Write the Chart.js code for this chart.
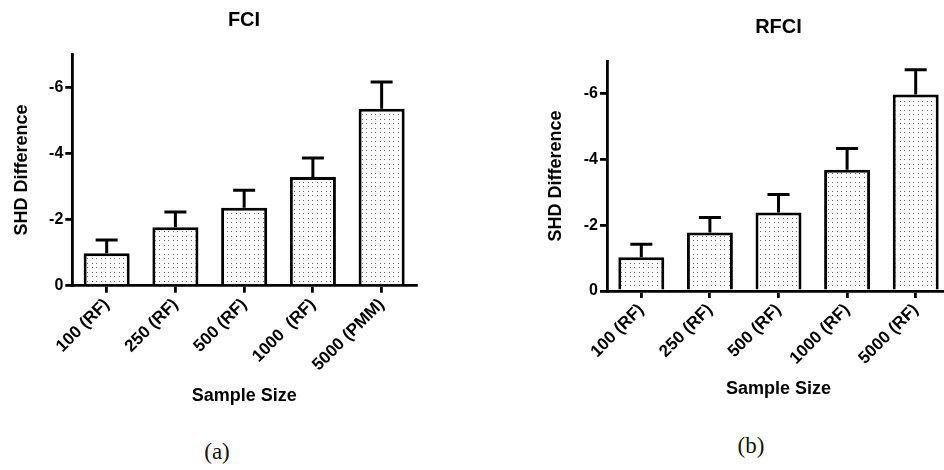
<!DOCTYPE html>
<html>
<head>
<meta charset="utf-8">
<script src="https://cdn.jsdelivr.net/npm/chart.js@4.4.1/dist/chart.umd.min.js"></script>
<style>
  html, body { margin: 0; padding: 0; background: #fff; width: 944px; height: 470px; overflow: hidden; position: relative; }
  canvas { position: absolute; top: 0; }
  #c1 { left: 0; }
  #c2 { left: 520px; }
  .cap { position: absolute; font-family: "Liberation Serif", "DejaVu Serif", serif; font-size: 23px; line-height: 1; color: #111; transform: translate(-50%, -50%); white-space: nowrap; }
</style>
</head>
<body>
<canvas id="c1" width="488" height="420"></canvas>
<canvas id="c2" width="517" height="420"></canvas>
<div class="cap" style="left:217px; top:451px;">(a)</div>
<div class="cap" style="left:751px; top:445px;">(b)</div>
<script>
// ---- Data ----
const fciCategories = ["100 (RF)", "250 (RF)", "500 (RF)", "1000  (RF)", "5000 (PMM)"];
const fciValues = [-0.98, -1.77, -2.36, -3.29, -5.35];
const fciErrors = [0.40, 0.46, 0.53, 0.57, 0.81];

const rfciCategories = ["100 (RF)", "250 (RF)", "500 (RF)", "1000 (RF)", "5000 (RF)"];
const rfciValues = [-1.03, -1.78, -2.39, -3.69, -5.98];
const rfciErrors = [0.39, 0.46, 0.55, 0.65, 0.75];

const yMin = -7;
const yMax = 0;
const yStep = 2;

const FONT = "'Liberation Sans', Arial, sans-serif";

function dotPattern() {
  const p = document.createElement('canvas');
  p.width = 9; p.height = 9;
  const c = p.getContext('2d');
  c.fillStyle = '#ffffff';
  c.fillRect(0, 0, 9, 9);
  c.fillStyle = '#666666';
  [[2, 2], [6, 2], [2, 6], [6, 6]].forEach(([x, y]) => c.fillRect(x, y, 1, 1));
  return document.createElement('canvas').getContext('2d').createPattern(p, 'repeat');
}

const errorBarPlugin = {
  id: 'errorBars',
  afterDatasetsDraw(chart, args, opts) {
    const ctx = chart.ctx;
    const xs = chart.scales.x, ys = chart.scales.y;
    const vals = chart.data.datasets[0].data;
    const errs = opts.errors;
    ctx.save();
    ctx.strokeStyle = '#000';
    ctx.lineWidth = 3;
    ctx.lineCap = 'butt';
    vals.forEach((v, i) => {
      const x = xs.getPixelForValue(i);
      const y0 = ys.getPixelForValue(v);
      const y1 = ys.getPixelForValue(v - errs[i]);
      ctx.beginPath();
      ctx.moveTo(x, y0);
      ctx.lineTo(x, y1);
      ctx.moveTo(x - 11, y1);
      ctx.lineTo(x + 11, y1);
      ctx.stroke();
    });
    ctx.restore();
  }
};

function makeChart(id, cfg) {
  const pattern = dotPattern();
  return new Chart(document.getElementById(id), {
    type: 'bar',
    data: {
      labels: cfg.labels,
      datasets: [{
        data: cfg.values,
        backgroundColor: pattern,
        borderColor: '#000',
        borderWidth: 3,
        borderSkipped: 'start',
        categoryPercentage: 1.0,
        barPercentage: 0.67
      }]
    },
    plugins: [errorBarPlugin],
    options: {
      responsive: false,
      animation: false,
      layout: { padding: 0 },
      plugins: {
        legend: { display: false },
        tooltip: { enabled: false },
        errorBars: { errors: cfg.errors },
        title: {
          display: true,
          text: cfg.title,
          color: '#000',
          font: { family: FONT, size: 20, weight: 'bold', lineHeight: 1.2 },
          padding: { top: cfg.titleTop, bottom: cfg.titleBottom }
        }
      },
      scales: {
        x: {
          offset: true,
          grid: { display: true, drawOnChartArea: false, offset: false, drawTicks: true, tickLength: 7, color: '#000', lineWidth: 2.8 },
          border: { display: true, color: '#000', width: 2.8 },
          ticks: { color: '#000', font: { family: FONT, size: 17, weight: 'bold' }, minRotation: 45, maxRotation: 45, padding: 2, autoSkip: false },
          title: {
            display: true, text: 'Sample Size', color: '#000',
            font: { family: FONT, size: 18, weight: 'bold', lineHeight: 1.2 },
            padding: { top: 0, bottom: cfg.xTitlePad }
          },
          afterFit(scale) { scale.height = cfg.xAxisHeight; }
        },
        y: {
          reverse: true,
          min: yMin,
          max: yMax,
          grid: { display: true, drawOnChartArea: false, drawTicks: true, tickLength: 7, color: '#000', lineWidth: 2.8 },
          border: { display: true, color: '#000', width: 2.8 },
          ticks: { stepSize: yStep, includeBounds: false, color: '#000', font: { family: FONT, size: 16, weight: 'bold' }, padding: 2 },
          title: {
            display: true, text: 'SHD Difference', color: '#000',
            font: { family: FONT, size: 18, weight: 'bold', lineHeight: 1.2 },
            padding: { top: cfg.yTitlePad, bottom: 0 }
          },
          afterFit(scale) { scale.width = cfg.yAxisWidth; }
        },
        yRight: {
          position: 'right',
          display: true,
          min: yMin,
          max: yMax,
          grid: { display: false },
          border: { display: false },
          ticks: { display: false },
          afterFit(scale) { scale.width = cfg.padRight; }
        }
      }
    }
  });
}

makeChart('c1', {
  labels: fciCategories, values: fciValues, errors: fciErrors, title: 'FCI',
  padRight: 72, titleTop: 8, titleBottom: 22.3,
  xAxisHeight: 134.3, xTitlePad: 13.2,
  yAxisWidth: 72.3, yTitlePad: 11.2
});

makeChart('c2', {
  labels: rfciCategories, values: rfciValues, errors: rfciErrors, title: 'RFCI',
  padRight: 87, titleTop: 15.5, titleBottom: 21.5,
  xAxisHeight: 129, xTitlePad: 20.2,
  yAxisWidth: 87, yTitlePad: 25.2
});
</script>
</body>
</html>
